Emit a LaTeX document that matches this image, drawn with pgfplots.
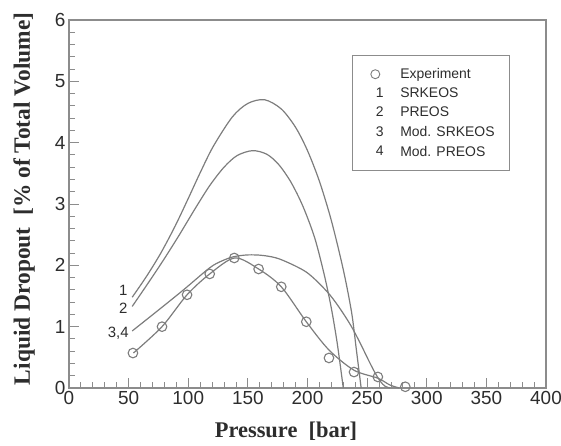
\documentclass[border=0pt]{standalone}
\usepackage{pgfplots}
\pgfplotsset{compat=1.18}
\usepackage{fontspec}
\setmainfont{Liberation Sans}
\newfontfamily\labfont{Liberation Serif}
\definecolor{ln}{RGB}{125,125,125}
\definecolor{fr}{RGB}{140,140,140}
\definecolor{tx}{RGB}{45,45,45}

\pgfplotstableread{
x y
53.6 0.57
78 1.00
99 1.52
118 1.86
138.6 2.12
159 1.94
178 1.65
199 1.08
218 0.49
239 0.26
259 0.18
282 0.02
}\expdata

\pgfplotstableread{
x y
54 0.57
78 1.00
99 1.52
118 1.86
139 2.12
159 1.94
178 1.65
199 1.08
218 0.62
239 0.29
259 0.16
269 0.05
277 0.00
}\expline

\pgfplotstableread{
x y
53 1.48
65 1.82
77 2.20
89 2.64
100 3.09
110 3.51
121 3.94
137 4.42
150 4.64
164 4.70
178 4.55
190 4.25
200 3.87
210 3.37
220 2.73
230 1.93
237 1.23
241 0.62
245 0.00
}\srk

\pgfplotstableread{
x y
53 1.33
66 1.70
79 2.08
92 2.48
105 2.90
118 3.30
130 3.60
141 3.79
154 3.87
166 3.81
176 3.64
186 3.36
196 2.97
206 2.45
214 1.85
220 1.30
225 0.72
230 0.00
}\pr

\pgfplotstableread{
x y
53 0.93
75 1.27
96 1.60
118 1.96
128 2.07
138 2.14
150 2.17
163 2.16
177 2.10
199 1.89
216 1.58
226 1.33
236 1.03
244 0.74
250 0.50
256 0.27
261 0.11
265 0.03
269 0.00
}\mod

\begin{document}
\begin{tikzpicture}
\path[use as bounding box] (-69bp,-58bp) rectangle (492bp,388bp);
\begin{axis}[
  at={(0,0)}, anchor=south west,
  scale only axis, width=477bp, height=368bp,
  xmin=0, xmax=400, ymin=0, ymax=6,
  xtick={0,50,...,400}, ytick={0,1,...,6},
  minor x tick num=4, minor y tick num=4,
  tick align=inside,
  xtick pos=bottom, ytick pos=left,
  major tick length=10bp, minor tick length=6bp,
  axis line style={fr, line width=1.1bp},
  every tick/.style={fr, line width=0.9bp},
  tick label style={font=\fontsize{19}{22}\selectfont, text=tx},
  /pgf/number format/assume math mode=true,
  xlabel={Pressure\ \ [bar]},
  ylabel={Liquid Dropout\ \ [\% of Total Volume]},
  xlabel style={font=\labfont\bfseries\fontsize{22.5}{24}\selectfont, text=tx,
     at={(axis description cs:0.455,-0.118)}, anchor=center},
  ylabel style={font=\labfont\bfseries\fontsize{23.5}{25}\selectfont, text=tx,
     at={(axis description cs:-0.094,0.514)}, anchor=center, rotate=0},
  legend style={at={(rel axis cs:0.593,0.905)}, anchor=north west,
     draw=fr, line width=0.9bp, font=\fontsize{14}{16}\selectfont, text=tx,
     inner xsep=14.5bp, inner ysep=13bp, row sep=8bp, column sep=16.5bp,
     nodes={inner sep=0pt}},
  legend cell align=left,
]
\addlegendimage{legend image code/.code={\path[draw=none] (0,0) -- (0.6cm,0);
   \draw[ln, line width=0.9bp, fill=white] plot[mark=o, mark size=4.5bp] coordinates {(0.3cm,0cm)};}}
\addlegendentry{Experiment}
\addlegendimage{legend image code/.code={\path[draw=none] (0,0) -- (0.6cm,0); \node[draw=none, inner sep=0pt, text=tx] at (0.3cm,0) {1};}}
\addlegendentry{SRKEOS}
\addlegendimage{legend image code/.code={\path[draw=none] (0,0) -- (0.6cm,0); \node[draw=none, inner sep=0pt, text=tx] at (0.3cm,0) {2};}}
\addlegendentry{PREOS}
\addlegendimage{legend image code/.code={\path[draw=none] (0,0) -- (0.6cm,0); \node[draw=none, inner sep=0pt, text=tx] at (0.3cm,0) {3};}}
\addlegendentry{Mod. SRKEOS}
\addlegendimage{legend image code/.code={\path[draw=none] (0,0) -- (0.6cm,0); \node[draw=none, inner sep=0pt, text=tx] at (0.3cm,0) {4};}}
\addlegendentry{Mod. PREOS}

\addplot[ln, line width=1.2bp, smooth, forget plot] table {\srk};
\addplot[ln, line width=1.2bp, smooth, forget plot] table {\pr};
\addplot[ln, line width=1.2bp, smooth, forget plot] table {\mod};
\addplot[ln, line width=1.2bp, smooth, forget plot] table {\expline};
\addplot[ln, line width=1.1bp, only marks, mark=o, mark size=4.8bp,
   mark options={fill=white}, forget plot] table {\expdata};

\node[anchor=east, text=tx, font=\fontsize{15}{17}\selectfont, inner sep=1bp] at (axis cs:50,1.60) {1};
\node[anchor=east, text=tx, font=\fontsize{15}{17}\selectfont, inner sep=1bp] at (axis cs:50,1.30) {2};
\node[anchor=east, text=tx, font=\fontsize{15}{17}\selectfont, inner sep=1bp] at (axis cs:51,0.90) {3,4};
\end{axis}
\end{tikzpicture}
\end{document}
